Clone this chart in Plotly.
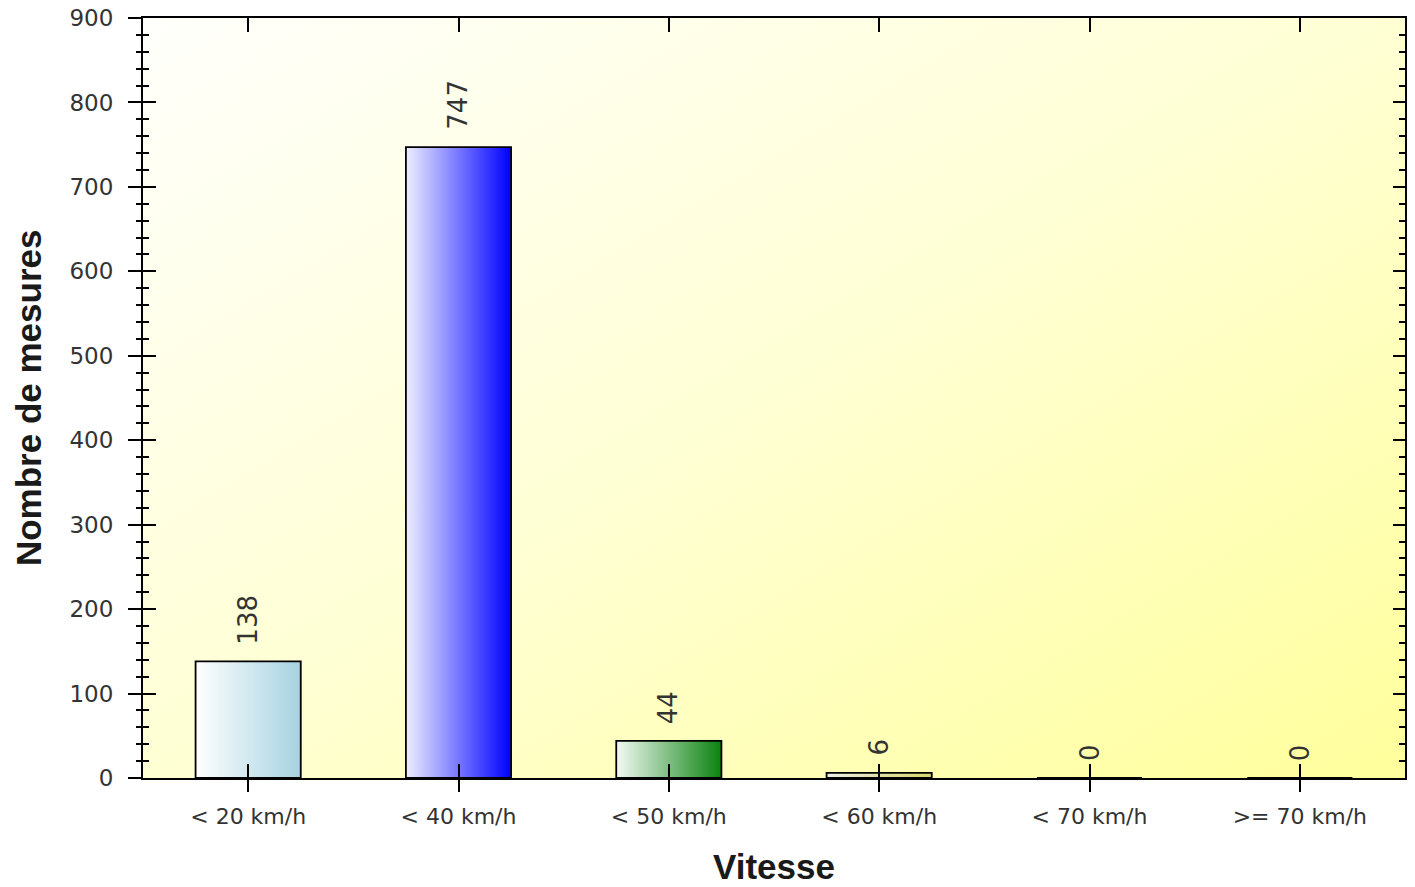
import base64
import plotly.graph_objects as go

categories = ["< 20 km/h", "< 40 km/h", "< 50 km/h", "< 60 km/h", "< 70 km/h", ">= 70 km/h"]
counts = [138, 747, 44, 6, 0, 0]
bar_left_colors = ["#ffffff", "#eeeeff", "#f4faf4", "#eeeeea", "#ffffff", "#ffffff"]
bar_right_colors = ["#a6d2e0", "#0000ff", "#0a820f", "#d6d66a", "#ff8800", "#ff0000"]
y_ticks = [0, 100, 200, 300, 400, 500, 600, 700, 800, 900]

x_title = "Vitesse"
y_title = "Nombre de mesures"

FONT = "DejaVu Sans, Verdana, sans-serif"
TITLE_FONT = "Liberation Sans, Arial, sans-serif"
BAR_W = 0.5

fig = go.Figure()

# bars drawn as filled shapes so they can carry a horizontal gradient
for i, (v, c0, c1) in enumerate(zip(counts, bar_left_colors, bar_right_colors)):
    xl, xr = i - BAR_W / 2, i + BAR_W / 2
    fig.add_trace(go.Scatter(
        x=[xl, xl, xr, xr, xl],
        y=[0, v, v, 0, 0],
        mode="lines",
        fill="toself",
        fillgradient=dict(type="horizontal", colorscale=[[0, c0], [1, c1]]),
        line=dict(color="black", width=1.8),
        hoverinfo="skip",
        showlegend=False,
    ))
    fig.add_annotation(
        x=i, y=v, xref="x", yref="y",
        text=str(v), textangle=-90,
        showarrow=False, yanchor="bottom", xanchor="center", yshift=15,
        font=dict(family=FONT, size=26, color="#333333"),
    )

# dummy traces to create the overlaid axes that carry extra ticks/labels
fig.add_trace(go.Scatter(x=[None], y=[None], xaxis="x2", yaxis="y2",
                         showlegend=False, hoverinfo="skip"))
fig.add_trace(go.Scatter(x=[None], y=[None], xaxis="x", yaxis="y3",
                         showlegend=False, hoverinfo="skip"))

# background gradient for the plot area
svg = ("<svg xmlns='http://www.w3.org/2000/svg' width='200' height='200' preserveAspectRatio='none'>"
       "<defs><linearGradient id='g' x1='0' y1='0' x2='1' y2='1'>"
       "<stop offset='0' stop-color='#fffffc'/>"
       "<stop offset='0.5' stop-color='#ffffd4'/>"
       "<stop offset='1' stop-color='#ffff9c'/>"
       "</linearGradient></defs><rect width='200' height='200' fill='url(#g)'/></svg>")
src = "data:image/svg+xml;base64," + base64.b64encode(svg.encode()).decode()
fig.add_layout_image(dict(source=src, xref="paper", yref="paper", x=0, y=1,
                          sizex=1, sizey=1, sizing="stretch", layer="below",
                          xanchor="left", yanchor="top"))

xr_ = [-0.5, len(categories) - 0.5]
fig.update_layout(
    width=1415, height=887,
    # page body has an 8px margin, so margins are shifted by that amount
    margin=dict(l=135, r=18, t=10, b=117, pad=0, autoexpand=False),
    paper_bgcolor="white",
    plot_bgcolor="rgba(0,0,0,0)",
    showlegend=False,
    xaxis=dict(range=xr_, tickvals=list(range(len(categories))), ticktext=categories,
               ticks="inside", ticklen=14, tickwidth=1.5, tickcolor="black",
               showline=True, linecolor="black", linewidth=2, mirror="ticks",
               showticklabels=False, showgrid=False, zeroline=False, automargin=False),
    xaxis2=dict(overlaying="x", side="bottom", range=xr_,
                tickvals=list(range(len(categories))), ticktext=categories,
                ticks="outside", ticklen=13, tickwidth=1.5, tickcolor="black",
                showline=False, showgrid=False, zeroline=False, automargin=False,
                ticklabeloverflow="allow",
                ticklabelstandoff=6, tickfont=dict(family=FONT, size=22, color="#333333")),
    yaxis=dict(range=[0, 900], tickvals=y_ticks,
               ticks="inside", ticklen=13, tickwidth=1.5, tickcolor="black",
               minor=dict(dtick=20, ticks="inside", ticklen=6, tickwidth=1.5, tickcolor="black"),
               showline=True, linecolor="black", linewidth=2, mirror=True,
               showticklabels=False, showgrid=False, zeroline=False, automargin=False),
    yaxis2=dict(overlaying="y", side="left", range=[0, 900], tickvals=y_ticks,
                ticks="outside", ticklen=14, tickwidth=1.5, tickcolor="black",
                minor=dict(dtick=20, ticks="outside", ticklen=6, tickwidth=1.5, tickcolor="black"),
                showline=False, showgrid=False, zeroline=False, automargin=False,
                ticklabeloverflow="allow",
                ticklabelstandoff=10, tickfont=dict(family=FONT, size=23, color="#333333")),
    yaxis3=dict(overlaying="y", side="right", range=[0, 900], tickvals=y_ticks,
                ticks="inside", ticklen=12, tickwidth=1.5, tickcolor="black",
                minor=dict(dtick=20, ticks="inside", ticklen=6, tickwidth=1.5, tickcolor="black"),
                showline=False, showgrid=False, zeroline=False, automargin=False,
                showticklabels=False),
)

fig.add_annotation(text=x_title, xref="paper", yref="paper", x=0.5, y=-0.116,
                   xanchor="center", yanchor="middle", showarrow=False,
                   font=dict(family=TITLE_FONT, size=35, color="#1a1a1a", weight="bold"))
fig.add_annotation(text=y_title, xref="paper", yref="paper", x=-0.0911, y=0.5,
                   textangle=-90, xanchor="center", yanchor="middle", showarrow=False,
                   font=dict(family=TITLE_FONT, size=35, color="#1a1a1a", weight="bold"))

fig.write_html("out.html")
